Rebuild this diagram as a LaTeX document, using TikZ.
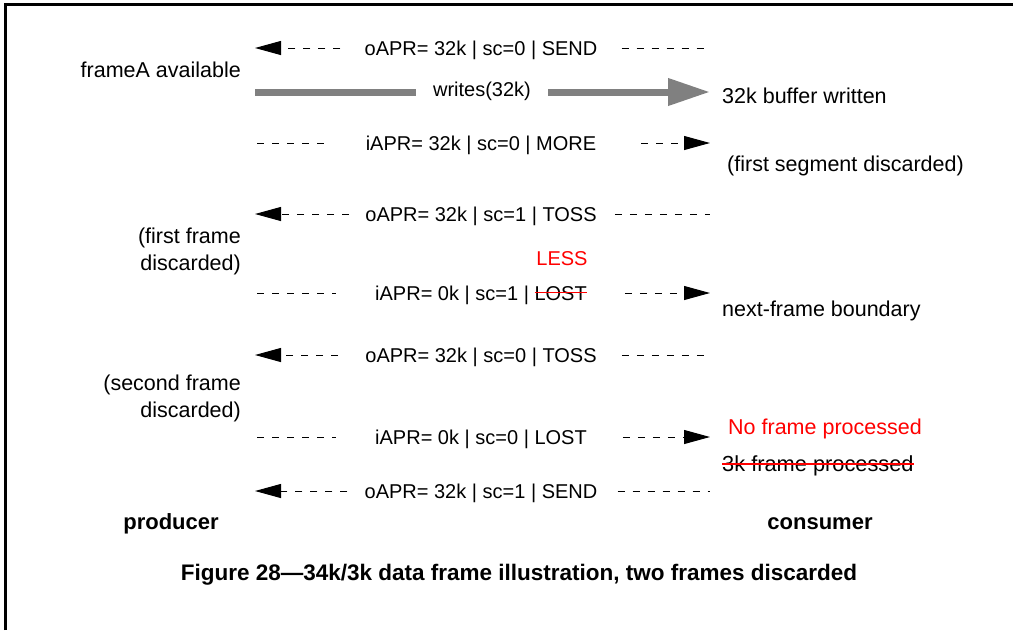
\documentclass[tikz,border=0pt]{standalone}
\usepackage{fontspec}
\setmainfont{Liberation Sans}
\usetikzlibrary{arrows.meta,positioning}
\definecolor{wrgray}{RGB}{128,128,128}
\definecolor{lostred}{RGB}{255,0,0}
\newcommand\redstrike[2][0.35em]{\begingroup\setbox0\hbox{#2}\copy0\llap{\textcolor{lostred}{\rule[#1]{\wd0}{1.6pt}}}\endgroup}

\begin{document}
\begin{tikzpicture}[x=1pt,y=-1pt,
  msg/.style={font=\fontsize{20}{24}\selectfont,inner sep=0pt,text height=14.5pt,text depth=0pt},
  side/.style={font=\fontsize{21.5}{27}\selectfont,inner sep=0pt,text height=15pt,text depth=0pt},
  role/.style={font=\fontsize{22}{26}\selectfont\bfseries,inner sep=0pt},
  dsh/.style={line width=1pt,dash pattern=on 7pt off 8pt}]
  \useasboundingbox (0,0) rectangle (1013,630);
  \draw[line width=3pt] (5,630) -- (5,4) -- (1013,4);
  % consumer -> producer
  \foreach \n/\y/\txt/\gl/\gr in {1/48/{oAPR= 32k | sc=0 | SEND}/24/24,3/214/{oAPR= 32k | sc=1 | TOSS}/16/18,5/355/{oAPR= 32k | sc=0 | TOSS}/27/25,7/491/{oAPR= 32k | sc=1 | SEND}/17/20}{
    \node[msg] (m\n) at (481,\y) {\txt};
    \coordinate (p\n) at (255,\y);
    \coordinate (c\n) at (710,\y);
    \draw[dsh,-{Triangle[length=26pt,width=14pt]}] ([xshift=-\gl]m\n.west) -- (p\n);
    \draw[dsh] ([xshift=\gr]m\n.east) -- (c\n);
  }
  % producer -> consumer
  \foreach \n/\y/\txt/\gl/\gr in {2/143/{iAPR= 32k | sc=0 | MORE}/35/45,4/293/{iAPR= 0k | sc=1 | \redstrike{LOST}}/39/38,6/437/{iAPR= 0k | sc=0 | LOST}/39/36}{
    \node[msg] (m\n) at (481,\y) {\txt};
    \coordinate (p\n) at (257,\y);
    \coordinate (c\n) at (710,\y);
    \draw[dsh] (p\n) -- ([xshift=-\gl]m\n.west);
    \draw[dsh,-{Triangle[length=26pt,width=14pt]}] ([xshift=\gr]m\n.east) -- (c\n);
  }
  % the write
  \node[msg] (wr) at (482,89) {writes(32k)};
  \coordinate (wL) at (255,92);
  \coordinate (wR) at (710,92);
  \draw[wrgray,line width=7pt] (wL) -- ([xshift=-17pt]wL -| wr.west);
  \draw[wrgray,line width=7pt,-{Triangle[length=42pt,width=26pt]}] ([xshift=17pt]wL -| wr.east) -- (wR);
  \node[msg,lostred] (less) at (562,258) {LESS};
  % producer side
  \node[side,anchor=east] (avail) at (241,70) {frameA available};
  \node[side,anchor=east,align=right] (disc1) at (241,263) {(first frame\\discarded)};
  \node[side,anchor=east,align=right] (disc2) at (241,410) {(second frame\\discarded)};
  % consumer side
  \node[side,anchor=west] (buf) at (722,96) {32k buffer written};
  \node[side,anchor=west] (seg) at (727,164) {(first segment discarded)};
  \node[side,anchor=west] (bound) at (722,309) {next-frame boundary};
  \node[side,anchor=west,lostred] (nofr) at (728,427) {No frame processed};
  \node[side,anchor=west,font=\fontsize{21.8}{27}\selectfont] (proc) at (722,464) {\redstrike[0.3em]{3k frame processed}};
  \node[role] (prod) at (171,524) {producer};
  \node[role] (cons) at (820,524) {consumer};
  \node[font=\fontsize{22.5}{26}\selectfont\bfseries,inner sep=0pt] (cap) at (519,575) {Figure 28---34k/3k data frame illustration, two frames discarded};
\end{tikzpicture}
\end{document}
